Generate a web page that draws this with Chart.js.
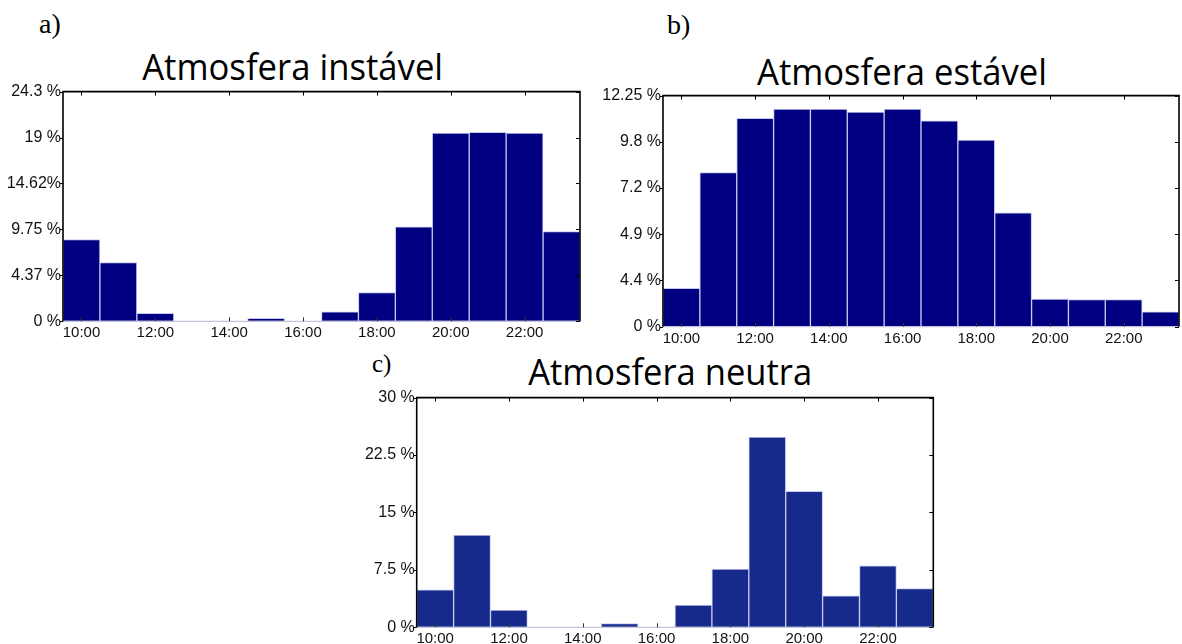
<!DOCTYPE html>
<html>
<head>
<meta charset="utf-8">
<script src="https://cdn.jsdelivr.net/npm/chart.js@4/dist/chart.umd.min.js"></script>
<style>
  html, body { margin: 0; padding: 0; background: #fff; }
  #page { position: relative; width: 1182px; height: 644px; overflow: hidden; background: #fff; }
  .box { position: absolute; }
  .title { position: absolute; font-family: "Open Sans", sans-serif; color: #000; white-space: nowrap; line-height: 1; transform-origin: center center; }
  .plab { position: absolute; font-family: "Liberation Serif", serif; color: #000; line-height: 1; }
</style>
</head>
<body>
<div id="page">
  <div class="plab" style="left:39px; top:10px; font-size:28px;">a)</div>
  <div class="plab" style="left:667px; top:11px; font-size:28px;">b)</div>
  <div class="plab" style="left:372px; top:351px; font-size:25px;">c)</div>
  <div class="title" id="ta">Atmosfera instável</div>
  <div class="title" id="tb">Atmosfera estável</div>
  <div class="title" id="tc">Atmosfera neutra</div>
  <div class="box" style="left:0px; top:80px; width:600px; height:270px;"><canvas id="ca"></canvas></div>
  <div class="box" style="left:600px; top:84px; width:582px; height:270px;"><canvas id="cb"></canvas></div>
  <div class="box" style="left:350px; top:386px; width:600px; height:258px;"><canvas id="cc"></canvas></div>
</div>
<script>
// ---- data ----
const hours = ['10:00','11:00','12:00','13:00','14:00','15:00','16:00','17:00','18:00','19:00','20:00','21:00','22:00','23:00'];
const instavelValues = [8.65, 6.2, 0.84, 0, 0, 0.32, 0, 1.0, 3.05, 10.0, 19.9, 20.0, 19.9, 9.49];
const estavelValues  = [2.04, 8.17, 11.05, 11.53, 11.53, 11.37, 11.53, 10.91, 9.89, 6.03, 1.46, 1.44, 1.44, 0.79];
const neutraValues   = [4.88, 12.06, 2.25, 0, 0, 0.47, 0, 2.89, 7.6, 24.85, 17.77, 4.1, 8.04, 5.06];
const instavelTicks = ['0 %', '4.37 %', '9.75 %', '14.62%', '19 %', '24.3 %'];
const estavelTicks  = ['0 %', '4.4 %', '4.9 %', '7.2 %', '9.8 %', '12.25 %'];
const neutraTicks   = ['0 %', '7.5 %', '15 %', '22.5 %', '30 %'];
const instavelMax = 24.3, estavelMax = 12.25, neutraMax = 30;

// titles
function placeTitle(id, cx, baseline, size, width) {
  const el = document.getElementById(id);
  el.style.fontSize = size + 'px';
  const w = el.getBoundingClientRect().width;
  el.style.left = (cx - w / 2) + 'px';
  el.style.top = (baseline - size * 0.83) + 'px';
  el.style.transform = 'scaleX(' + (width / w) + ')';
}
placeTitle('ta', 292.5, 78, 37, 301);
placeTitle('tb', 901.7, 83, 37, 290);
placeTitle('tc', 670, 383, 37, 284);

const framePlugin = {
  id: 'frame',
  afterDatasetsDraw(chart) {
    const ctx = chart.ctx, a = chart.chartArea;
    const xs = chart.scales.x;
    ctx.save();
    ctx.strokeStyle = '#c4c4d8';
    ctx.lineWidth = 1.2;
    ctx.beginPath(); ctx.moveTo(a.left, a.bottom); ctx.lineTo(a.right, a.bottom); ctx.stroke();
    ctx.strokeStyle = '#333';
    ctx.lineWidth = 1;
    for (let i = 0; i < hours.length; i += 2) {
      const x = Math.round(xs.getPixelForValue(i)) + 0.5;
      ctx.beginPath(); ctx.moveTo(x, a.bottom); ctx.lineTo(x, a.bottom - 4); ctx.stroke();
    }
    ctx.restore();
  },
  afterDraw(chart) {
    const ctx = chart.ctx, a = chart.chartArea;
    const xs = chart.scales.x, ys = chart.scales.y;
    ctx.save();
    ctx.strokeStyle = '#000';
    ctx.lineWidth = 1.6;
    ctx.beginPath();
    ctx.moveTo(a.left, a.bottom);
    ctx.lineTo(a.left, a.top);
    ctx.lineTo(a.right, a.top);
    ctx.lineTo(a.right, a.bottom);
    ctx.stroke();
    ctx.lineWidth = 1;
    for (let i = 0; i < hours.length; i += 2) {
      const x = Math.round(xs.getPixelForValue(i)) + 0.5;
      ctx.beginPath(); ctx.moveTo(x, a.top); ctx.lineTo(x, a.top + 4); ctx.stroke();
    }
    ys.ticks.forEach(t => {
      const y = Math.round(ys.getPixelForValue(t.value)) + 0.5;
      ctx.beginPath(); ctx.moveTo(a.right, y); ctx.lineTo(a.right - 4, y); ctx.stroke();
      ctx.beginPath(); ctx.moveTo(a.left, y); ctx.lineTo(a.left - 3, y); ctx.stroke();
    });
    ctx.restore();
  }
};

function makeChart(canvasId, values, tickLabels, ymax, color, geom) {
  const n = tickLabels.length - 1;
  return new Chart(document.getElementById(canvasId), {
    type: 'bar',
    data: {
      labels: hours,
      datasets: [{
        data: values,
        backgroundColor: color,
        borderColor: '#c8c8ec',
        borderWidth: 1,
        borderSkipped: false,
        categoryPercentage: 1.0,
        barPercentage: 1.0
      }]
    },
    options: {
      responsive: true,
      maintainAspectRatio: false,
      animation: false,
      events: [],
      layout: { padding: { left: 0, right: geom.W - geom.right, top: geom.top, bottom: 0 } },
      plugins: { legend: { display: false }, tooltip: { enabled: false } },
      scales: {
        x: {
          grid: { display: false, drawTicks: false },
          border: { display: false },
          afterFit(s) { s.height = geom.H - geom.bottom; },
          ticks: {
            autoSkip: false, maxRotation: 0, minRotation: 0, padding: 3,
            color: '#111',
            font: { family: 'Liberation Sans, Arial, sans-serif', size: 15 },
            callback: (v, i) => (i % 2 === 0 ? hours[i] : '')
          }
        },
        y: {
          min: 0, max: ymax,
          grid: { display: false, drawTicks: false },
          border: { display: false },
          afterFit(s) { s.width = geom.left; },
          afterBuildTicks(s) { s.ticks = tickLabels.map((_, i) => ({ value: i * ymax / n })); },
          ticks: {
            padding: 2,
            color: '#111',
            font: { family: 'Liberation Sans, Arial, sans-serif', size: 16 },
            callback: (v, i) => tickLabels[i]
          }
        }
      }
    },
    plugins: [framePlugin]
  });
}

makeChart('ca', instavelValues, instavelTicks, instavelMax, '#000080', { W: 600, H: 270, left: 63, top: 10, right: 580, bottom: 241.3 });
makeChart('cb', estavelValues, estavelTicks, estavelMax, '#000080', { W: 582, H: 270, left: 63, top: 10.3, right: 579, bottom: 242.7 });
makeChart('cc', neutraValues, neutraTicks, neutraMax, '#152a8a', { W: 600, H: 258, left: 66.7, top: 10, right: 583.3, bottom: 241.3 });
</script>
</body>
</html>
